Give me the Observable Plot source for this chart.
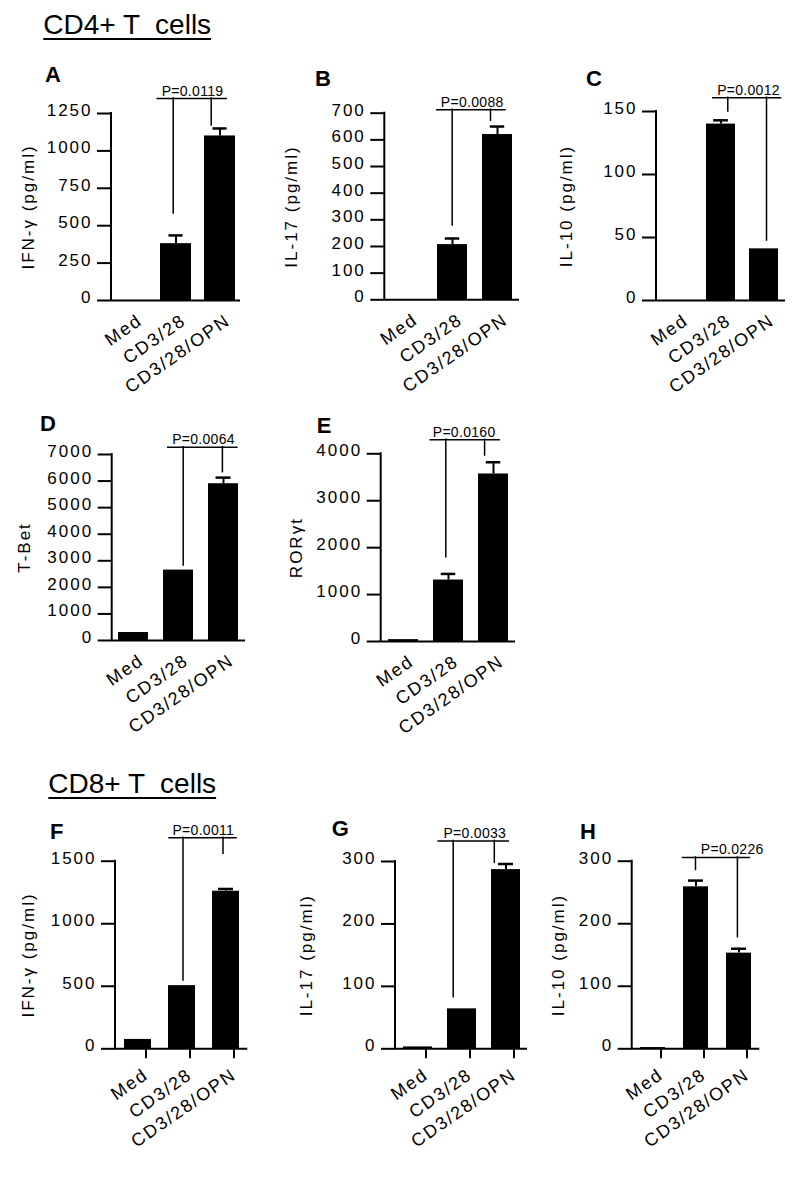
<!DOCTYPE html>
<html>
<head>
<meta charset="utf-8">
<script src="https://cdn.jsdelivr.net/npm/d3@7"></script>
<script src="https://cdn.jsdelivr.net/npm/@observablehq/plot@0.6"></script>
<style>
  body { margin: 0; background: #fff; }
  #fig { position: relative; width: 800px; height: 1179px; overflow: hidden; background: #fff;
         font-family: "Liberation Sans", Arial, Helvetica, sans-serif; color: #000; }
  .sec { position: absolute; font-size: 28px; line-height: 28px; white-space: pre;
         text-decoration: underline; text-decoration-thickness: 2px; text-underline-offset: 4px; }
  .let { position: absolute; font-size: 22px; line-height: 22px; font-weight: bold; }
  .pan { position: absolute; }
  .pan svg { background: transparent !important; overflow: visible !important;
             font-family: "Liberation Sans", Arial, Helvetica, sans-serif; }
</style>
</head>
<body>
<div id="fig"></div>
<script>
// ---------------- data ----------------
const categories = ["Med", "CD3/28", "CD3/28/OPN"];
const panelLetters = ["A", "B", "C", "D", "E", "F", "G", "H"];
const sectionTitles = ["CD4+ T  cells", "CD8+ T  cells"];
const yTitles = ["IFN-γ (pg/ml)", "IL-17 (pg/ml)", "IL-10 (pg/ml)", "T-Bet", "RORγt",
                 "IFN-γ (pg/ml)", "IL-17 (pg/ml)", "IL-10 (pg/ml)"];
const pValues = ["P=0.0119", "P=0.0088", "P=0.0012", "P=0.0064", "P=0.0160",
                 "P=0.0011", "P=0.0033", "P=0.0226"];

// bar heights (mean) and top of error bar (null = no visible error bar)
const meanA = [0, 380, 1100];   const errA = [null, 435, 1150];
const meanB = [0, 207, 620];    const errB = [null, 230, 650];
const meanC = [0, 140, 41];     const errC = [null, 143, null];
const meanD = [300, 2650, 5900]; const errD = [null, null, 6130];
const meanE = [40, 1310, 3570]; const errE = [null, 1440, 3820];
const meanF = [75, 505, 1260];  const errF = [null, null, 1278];
const meanG = [3, 64, 287];     const errG = [null, null, 296];
const meanH = [2, 259, 153];    const errH = [null, 269, 160];

// y-axis tick values
const ticksA = [0, 250, 500, 750, 1000, 1250];
const ticksB = [0, 100, 200, 300, 400, 500, 600, 700];
const ticksC = [0, 50, 100, 150];
const ticksD = [0, 1000, 2000, 3000, 4000, 5000, 6000, 7000];
const ticksE = [0, 1000, 2000, 3000, 4000];
const ticksF = [0, 500, 1000, 1500];
const ticksG = [0, 100, 200, 300];
const ticksH = [0, 100, 200, 300];

// significance bracket: [top, bottom of left leg, bottom of right leg] (data units)
const bracketA = [1350, 581, 1170];
const bracketB = [713, 279, 672];
const bracketC = [161, 150, 47.6];
const bracketD = [7275, 2823, 6334];
const bracketE = [4298, 1796, 3963];
const bracketF = [1687, 546, 1559];
const bracketG = [333, 82.5, 298];
const bracketH = [306, 286, 178.5];

const means = [meanA, meanB, meanC, meanD, meanE, meanF, meanG, meanH];
const errs = [errA, errB, errC, errD, errE, errF, errG, errH];
const tickSets = [ticksA, ticksB, ticksC, ticksD, ticksE, ticksF, ticksG, ticksH];
const brackets = [bracketA, bracketB, bracketC, bracketD, bracketE, bracketF, bracketG, bracketH];

// ---------------- layout (page pixels) ----------------
const layout = [
  {x: 0,   y: 50,  w: 260, h: 348, fx: [111, 240],     fy: [113, 300],      p: .29,  o: .08,  tick: 0,  pad: 18, bdx: [-2.8, -8.8],  tdx: 16.5, lab: 28,  letter: [45, 83]},
  {x: 260, y: 50,  w: 270, h: 348, fx: [384.3, 519],   fy: [112.7, 299.3],  p: .33,  o: .14,  tick: 0,  pad: 18, bdx: [-0.3, -7],    tdx: 19.7, lab: 291, letter: [315, 86.7]},
  {x: 530, y: 50,  w: 270, h: 348, fx: [656, 785],     fy: [111, 300],      p: .33,  o: .14,  tick: 0,  pad: 18, bdx: [6.8, 2.5],    tdx: 27.5, lab: 566, letter: [586, 86.7]},
  {x: 0,   y: 405, w: 260, h: 343, fx: [111.7, 245],   fy: [454, 640],      p: .336, o: .143, tick: 0,  pad: 18, bdx: [4.7, -1.1],   tdx: 25,   lab: 24,  letter: [40, 431.7]},
  {x: 260, y: 405, w: 270, h: 343, fx: [380.7, 515],   fy: [453.3, 641],    p: .324, o: .151, tick: 0,  pad: 18, bdx: [-2.7, -8.9],  tdx: 15.6, lab: 296, letter: [316.7, 433.3]},
  {x: 0,   y: 805, w: 260, h: 374, fx: [115, 247.3],   fy: [860.7, 1048.3], p: .396, o: .178, tick: 10, pad: 14, bdx: [1, -3],       tdx: 21.3, lab: 28,  letter: [50, 840]},
  {x: 260, y: 805, w: 270, h: 374, fx: [395, 527],     fy: [861, 1048.3],   p: .344, o: .165, tick: 10, pad: 14, bdx: [-8.8, -11.7], tdx: 12.8, lab: 306, letter: [331.7, 836.7]},
  {x: 530, y: 805, w: 270, h: 374, fx: [631.7, 759.3], fy: [860.7, 1048.3], p: .425, o: .179, tick: 10, pad: 14, bdx: [-0.5, -1.6],  tdx: 36.2, lab: 558, letter: [580, 840]}
];
const titlePos = [[43.3, 35], [48.3, 793.3]];

const fig = document.getElementById("fig");

// section titles
sectionTitles.forEach((t, i) => {
  const d = document.createElement("div");
  d.className = "sec";
  d.textContent = t;
  d.style.left = titlePos[i][0] + "px";
  d.style.top = (titlePos[i][1] - 23.7) + "px";
  fig.appendChild(d);
});

function axisLineY(max) {
  return (index, scales, values, dims) => {
    const l = document.createElementNS("http://www.w3.org/2000/svg", "line");
    l.setAttribute("x1", dims.marginLeft);
    l.setAttribute("x2", dims.marginLeft);
    l.setAttribute("y1", scales.y(0));
    l.setAttribute("y2", scales.y(max));
    l.setAttribute("stroke", "black");
    l.setAttribute("stroke-width", 2);
    l.setAttribute("stroke-linecap", "square");
    return l;
  };
}

layout.forEach((L, k) => {
  const data = categories.map((c, i) => ({cat: c, mean: means[k][i], err: errs[k][i]}));
  const errData = data.filter(d => d.err != null);
  const ticks = tickSets[k];
  const max = ticks[ticks.length - 1];
  const [bTop, bLeft, bRight] = brackets[k];
  const ml = L.fx[0] - L.x, mr = L.x + L.w - L.fx[1];
  const mt = L.fy[0] - L.y, mb = L.y + L.h - L.fy[1];
  const range = L.fx[1] - L.fx[0];
  const step = range / (3 - L.p + 2 * L.o);
  const bw = step * (1 - L.p);
  const capInset = Math.max(0, (bw - 15) / 2);

  const chart = Plot.plot({
    width: L.w, height: L.h,
    marginLeft: ml, marginRight: mr, marginTop: mt, marginBottom: mb,
    x: {domain: categories, paddingInner: L.p, paddingOuter: L.o, axis: null},
    y: {domain: [0, max], axis: null},
    marks: [
      Plot.barY(data, {x: "cat", y: "mean", fill: "black"}),
      Plot.ruleX(errData, {x: "cat", y1: "mean", y2: "err", stroke: "black", strokeWidth: 2}),
      Plot.tickY(errData, {x: "cat", y: "err", stroke: "black", strokeWidth: 2.5, insetLeft: capInset, insetRight: capInset}),
      // significance bracket
      Plot.ruleX([categories[1]], {x: d => d, y1: () => bLeft, y2: () => bTop, dx: L.bdx[0], stroke: "black", strokeWidth: 1.5, strokeLinecap: "square"}),
      Plot.ruleX([categories[2]], {x: d => d, y1: () => bRight, y2: () => bTop, dx: L.bdx[1], stroke: "black", strokeWidth: 1.5, strokeLinecap: "square"}),
      Plot.ruleY([bTop], {x1: () => categories[1], x2: () => categories[2], y: d => d, insetLeft: L.bdx[0], insetRight: -L.bdx[1], stroke: "black", strokeWidth: 1.5, strokeLinecap: "square"}),
      Plot.text([pValues[k]], {x: () => categories[1], y: () => bTop, text: d => d, dx: L.tdx, dy: -3, lineAnchor: "bottom", textAnchor: "middle", fontSize: 14, fill: "black"}),
      // axes
      Plot.ruleY([0], {stroke: "black", strokeWidth: 2}),
      axisLineY(max),
      Plot.axisY({ticks, tickSize: 14, tickFormat: d3.format("d"), text: null, strokeWidth: 2, label: null}),
      Plot.axisY({ticks, tickSize: 0, tickPadding: 19, dy: -3, tickFormat: d3.format("d"), label: null, fill: "black"}),
      Plot.axisX({tickRotate: -35, tickSize: L.tick, tickPadding: L.pad, dx: 8, strokeWidth: 2, label: null, fill: "black"}),
      Plot.text([yTitles[k]], {frameAnchor: "left", text: d => d, rotate: -90, textAnchor: "middle", lineAnchor: "middle", dx: L.lab - L.fx[0], fill: "black"})
    ]
  });
  // font sizes and letter spacing, set inline on each text
  d3.select(chart).selectAll("text").each(function () {
    const t = this.textContent;
    if (t === pValues[k]) {
      this.setAttribute("font-size", 14);
      this.style.letterSpacing = "0.3px";
    } else if (categories.includes(t)) {
      this.setAttribute("font-size", 18);
      this.style.letterSpacing = "1.8px";
    } else {
      this.setAttribute("font-size", 17);
      this.style.letterSpacing = "2px";
    }
  });
  const wrap = document.createElement("div");
  wrap.className = "pan";
  wrap.style.left = L.x + "px";
  wrap.style.top = L.y + "px";
  wrap.appendChild(chart);
  fig.appendChild(wrap);

  const lt = document.createElement("div");
  lt.className = "let";
  lt.textContent = panelLetters[k];
  lt.style.left = L.letter[0] + "px";
  lt.style.top = (L.letter[1] - 18.6) + "px";
  fig.appendChild(lt);
});
</script>
</body>
</html>
